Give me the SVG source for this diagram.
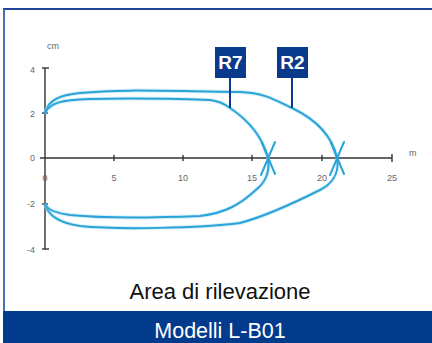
<svg xmlns="http://www.w3.org/2000/svg" width="432" height="343" viewBox="0 0 432 343">
<style>
.ax{stroke:#333;stroke-width:1.4;fill:none}
.lbl{font-family:"Liberation Sans",Arial,sans-serif;font-size:9px;fill:#666}
.curve{fill:none;stroke:#2aa3d8;stroke-width:2;stroke-linecap:round}
.glow{fill:none;stroke:#9ad8f0;stroke-width:4;stroke-opacity:0.4}
.tag{fill:#0a3a8c}
.tagt{font-family:"Liberation Sans",Arial,sans-serif;font-size:19px;font-weight:bold;fill:#fff;text-anchor:middle}
.lead{stroke:#0a3a8c;stroke-width:2}
</style>
<rect x="0" y="0" width="432" height="343" fill="#fff"/>
<g id="frame">
<line x1="3" y1="9" x2="432" y2="9" stroke="#1e449a" stroke-width="2"/>
<line x1="4" y1="9" x2="4" y2="312" stroke="#4d6cb4" stroke-width="2"/>
</g>
<g id="axes">
<line class="ax" x1="45" y1="68" x2="45" y2="249"/>
<line class="ax" x1="42" y1="68" x2="49" y2="68"/>
<line class="ax" x1="42" y1="249" x2="49" y2="249"/>
<line class="ax" x1="42" y1="113" x2="48" y2="113"/>
<line class="ax" x1="42" y1="204" x2="48" y2="204"/>
<line class="ax" x1="40" y1="158" x2="392" y2="158"/>
<line class="ax" x1="114" y1="155" x2="114" y2="161"/>
<line class="ax" x1="183" y1="155" x2="183" y2="161"/>
<line class="ax" x1="252" y1="155" x2="252" y2="161"/>
<line class="ax" x1="322" y1="155" x2="322" y2="161"/>
<line class="ax" x1="392" y1="154" x2="392" y2="162"/>
<text class="lbl" x="47" y="49">cm</text>
<text class="lbl" x="409" y="156">m</text>
<text class="lbl" x="35" y="73" text-anchor="end">4</text>
<text class="lbl" x="35" y="117" text-anchor="end">2</text>
<text class="lbl" x="35" y="161" text-anchor="end">0</text>
<text class="lbl" x="35" y="207" text-anchor="end">-2</text>
<text class="lbl" x="35" y="253" text-anchor="end">-4</text>
<text class="lbl" x="45" y="181" text-anchor="middle">0</text>
<text class="lbl" x="114" y="181" text-anchor="middle">5</text>
<text class="lbl" x="183" y="181" text-anchor="middle">10</text>
<text class="lbl" x="252" y="181" text-anchor="middle">15</text>
<text class="lbl" x="322" y="181" text-anchor="middle">20</text>
<text class="lbl" x="392" y="181" text-anchor="middle">25</text>
</g>
<g id="R2-curve">
<path class="glow" d="M45,113 C48,100 60,95 80,93 C120,89 160,91 240,92 C265,93 275,100 292,108 C315,119 332,135 337,158 C340,175 330,185 320,190 C300,200 270,215 240,223 C200,228 120,230 80,226 C60,223 48,216 45,204"/>
<path class="curve" d="M45,113 C48,100 60,95 80,93 C120,89 160,91 240,92 C265,93 275,100 292,108 C315,119 332,135 337,158 C340,175 330,185 320,190 C300,200 270,215 240,223 C200,228 120,230 80,226 C60,223 48,216 45,204"/>
<path class="curve" d="M344,142 L330,175 M331,143 L344,174"/>
</g>
<g id="R7-curve">
<path class="glow" d="M45,113 C50,103 60,100 90,99 C130,98 180,99 210,100 C220,101 226,105 230,108 C248,120 262,135 268,158 C270,172 265,182 258,188 C240,205 225,213 200,216 C150,218 100,218 70,215 C55,213 47,209 45,204"/>
<path class="curve" d="M45,113 C50,103 60,100 90,99 C130,98 180,99 210,100 C220,101 226,105 230,108 C248,120 262,135 268,158 C270,172 265,182 258,188 C240,205 225,213 200,216 C150,218 100,218 70,215 C55,213 47,209 45,204"/>
<path class="curve" d="M275,142 L261,175 M262,143 L275,174"/>
</g>
<g id="connectors">
<line class="lead" x1="230" y1="77" x2="230" y2="108"/>
<line class="lead" x1="292" y1="77" x2="292" y2="108"/>
</g>
<g id="R7">
<rect class="tag" x="215" y="47" width="31" height="31"/>
<text class="tagt" x="230.5" y="69">R7</text>
</g>
<g id="R2">
<rect class="tag" x="277" y="47" width="31" height="31"/>
<text class="tagt" x="292.5" y="69">R2</text>
</g>
<g id="caption">
<text x="220" y="299" font-family="Liberation Sans,Arial,sans-serif" font-size="22" fill="#111" text-anchor="middle">Area di rilevazione</text>
</g>
<g id="footer">
<rect x="3" y="311" width="429" height="32" fill="#033b8c"/>
<text x="220" y="338" font-family="Liberation Sans,Arial,sans-serif" font-size="21.5" fill="#fff" text-anchor="middle">Modelli L-B01</text>
</g>
</svg>
